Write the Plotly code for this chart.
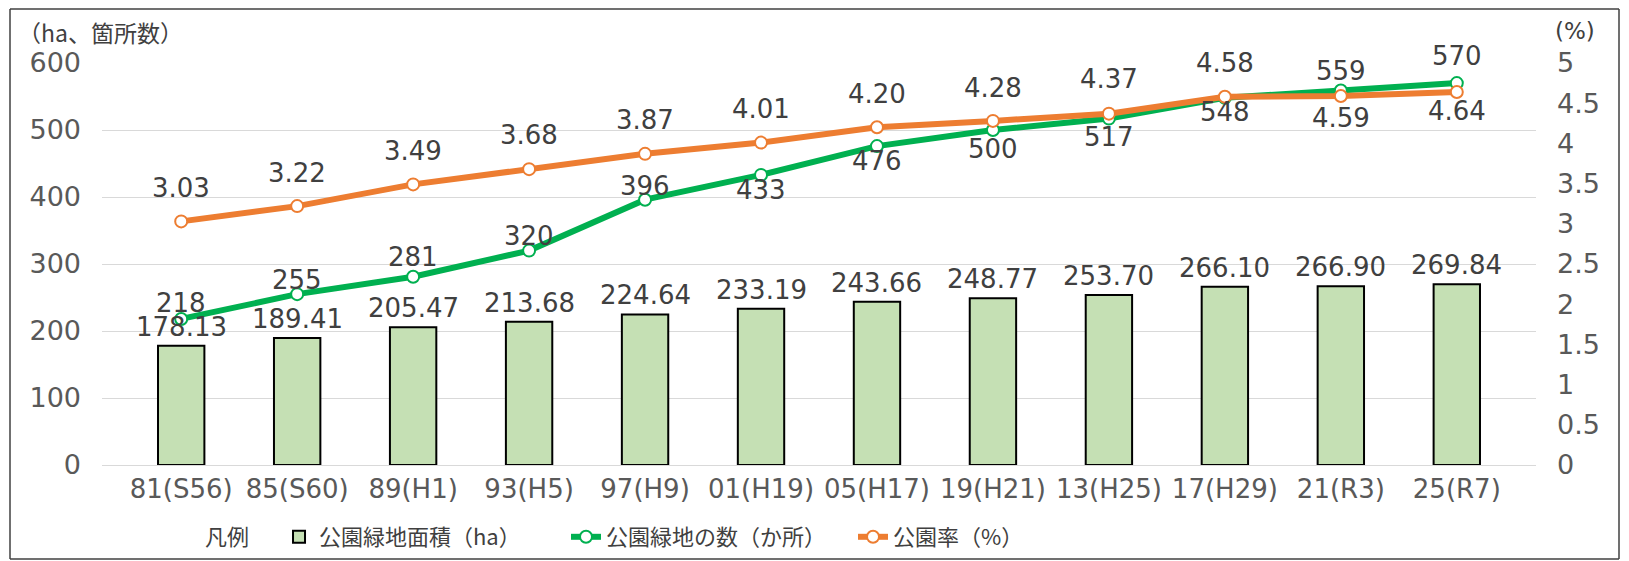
import plotly.graph_objects as go

categories = ["81(S56)", "85(S60)", "89(H1)", "93(H5)", "97(H9)", "01(H19)",
              "05(H17)", "19(H21)", "13(H25)", "17(H29)", "21(R3)", "25(R7)"]
area_ha = [178.13, 189.41, 205.47, 213.68, 224.64, 233.19,
           243.66, 248.77, 253.70, 266.10, 266.90, 269.84]
park_count = [218, 255, 281, 320, 396, 433, 476, 500, 517, 548, 559, 570]
park_rate = [3.03, 3.22, 3.49, 3.68, 3.87, 4.01, 4.20, 4.28, 4.37, 4.58, 4.59, 4.64]

# label placement (style only): vertical pixel shifts of data labels
count_label_shift = [16, 14, 20, 15, 14, -15, -15, -19, -18, -14, 19, 27]
rate_label_shift = [33, 33, 33, 34, 34, 34, 33, 33, 35, 34, -22, -19]
bar_label_shift = 19

NUM_FONT = "DejaVu Sans"
JP_FONT = "Noto Sans CJK JP"
LABEL_COLOR = "#404040"
TICK_COLOR = "#595959"
GREEN = "#00B050"
ORANGE = "#ED7D31"

fig = go.Figure()
fig.add_trace(go.Bar(
    x=categories, y=area_ha, name="公園緑地面積（ha）",
    marker=dict(color="#C5E0B4", line=dict(color="#000000", width=2)),
    yaxis="y", cliponaxis=False,
))
fig.add_trace(go.Scatter(
    x=categories, y=park_count, name="公園緑地の数（か所）", mode="lines+markers",
    line=dict(color=GREEN, width=6),
    marker=dict(symbol="circle", size=12, color="white", line=dict(color=GREEN, width=2)),
    yaxis="y", cliponaxis=False,
))
fig.add_trace(go.Scatter(
    x=categories, y=park_rate, name="公園率（%）", mode="lines+markers",
    line=dict(color=ORANGE, width=6),
    marker=dict(symbol="circle", size=12, color="white", line=dict(color=ORANGE, width=2)),
    yaxis="y2", cliponaxis=False,
))

annotations = []
label_font = dict(family=NUM_FONT, size=26, color=LABEL_COLOR)
for c, v in zip(categories, area_ha):
    annotations.append(dict(x=c, y=v, xref="x", yref="y", text=f"{v:.2f}",
                            showarrow=False, yshift=bar_label_shift, yanchor="middle",
                            font=label_font))
for c, v, s in zip(categories, park_count, count_label_shift):
    annotations.append(dict(x=c, y=v, xref="x", yref="y", text=f"{v}",
                            showarrow=False, yshift=s, yanchor="middle",
                            font=label_font))
for c, v, s in zip(categories, park_rate, rate_label_shift):
    annotations.append(dict(x=c, y=v, xref="x", yref="y2", text=f"{v:.2f}",
                            showarrow=False, yshift=s, yanchor="middle",
                            font=label_font))

# page offset (default body margin of the html page)
OFF = 8
W, H = 1629, 561
PL, PR, PT, PB = 102, 1536, 63, 465   # plot area in screen pixels
ML, MT = PL - OFF, PT - OFF
MR, MB = W - (PR - OFF), H - (PB - OFF)
PW, PH = PR - PL, PB - PT


def px(x):
    return (x - PL) / PW


def py(y):
    return (PB - y) / PH


annotations.append(dict(x=px(16), y=py(32), xref="paper", yref="paper",
                        text="（ha、箇所数）", showarrow=False, xanchor="left",
                        yanchor="middle", font=dict(family=JP_FONT, size=23, color=LABEL_COLOR)))
annotations.append(dict(x=px(1553), y=py(31), xref="paper", yref="paper",
                        text="(%)", showarrow=False, xanchor="left",
                        yanchor="middle", font=dict(family=NUM_FONT, size=23, color=LABEL_COLOR)))

border = dict(color="#404040", width=1.5)
bx0, bx1, by0, by1 = px(10), px(1619), py(559), py(OFF + 1)
fig.update_layout(
    width=W, height=H,
    margin=dict(l=ML, r=MR, t=MT, b=MB, autoexpand=False),
    paper_bgcolor="white", plot_bgcolor="white",
    bargap=0.6,
    showlegend=True,
    legend=dict(
        orientation="h", x=px(203), y=py(537), xanchor="left", yanchor="middle",
        title=dict(text="凡例　", side="left", font=dict(family=JP_FONT, size=22, color=LABEL_COLOR)),
        font=dict(family=JP_FONT, size=22, color=LABEL_COLOR),
        bgcolor="rgba(0,0,0,0)", entrywidth=242, entrywidthmode="pixels",
        tracegroupgap=0,
    ),
    xaxis=dict(type="category", showgrid=False, showline=False, ticks="",
               tickfont=dict(family=NUM_FONT, size=26, color=TICK_COLOR),
               ticklabelstandoff=6, fixedrange=True),
    yaxis=dict(range=[0, 600], dtick=100, showgrid=True, gridcolor="#D9D9D9", gridwidth=1,
               zeroline=True, zerolinecolor="#D9D9D9", zerolinewidth=1,
               showline=False, ticks="",
               tickfont=dict(family=NUM_FONT, size=27, color=TICK_COLOR),
               ticklabelstandoff=20),
    yaxis2=dict(range=[0, 5], dtick=0.5, overlaying="y", side="right", showgrid=False,
                zeroline=False, showline=False, ticks="",
                tickfont=dict(family=NUM_FONT, size=27, color=TICK_COLOR),
                ticklabelstandoff=20),
    annotations=annotations,
    shapes=[
        dict(type="line", xref="paper", yref="paper", x0=bx0, x1=bx1, y0=by1, y1=by1, line=border, layer="above"),
        dict(type="line", xref="paper", yref="paper", x0=bx0, x1=bx1, y0=by0, y1=by0, line=border, layer="above"),
        dict(type="line", xref="paper", yref="paper", x0=bx0, x1=bx0, y0=by0, y1=by1, line=border, layer="above"),
        dict(type="line", xref="paper", yref="paper", x0=bx1, x1=bx1, y0=by0, y1=by1, line=border, layer="above"),
    ],
)

fig.write_html("out.html")
